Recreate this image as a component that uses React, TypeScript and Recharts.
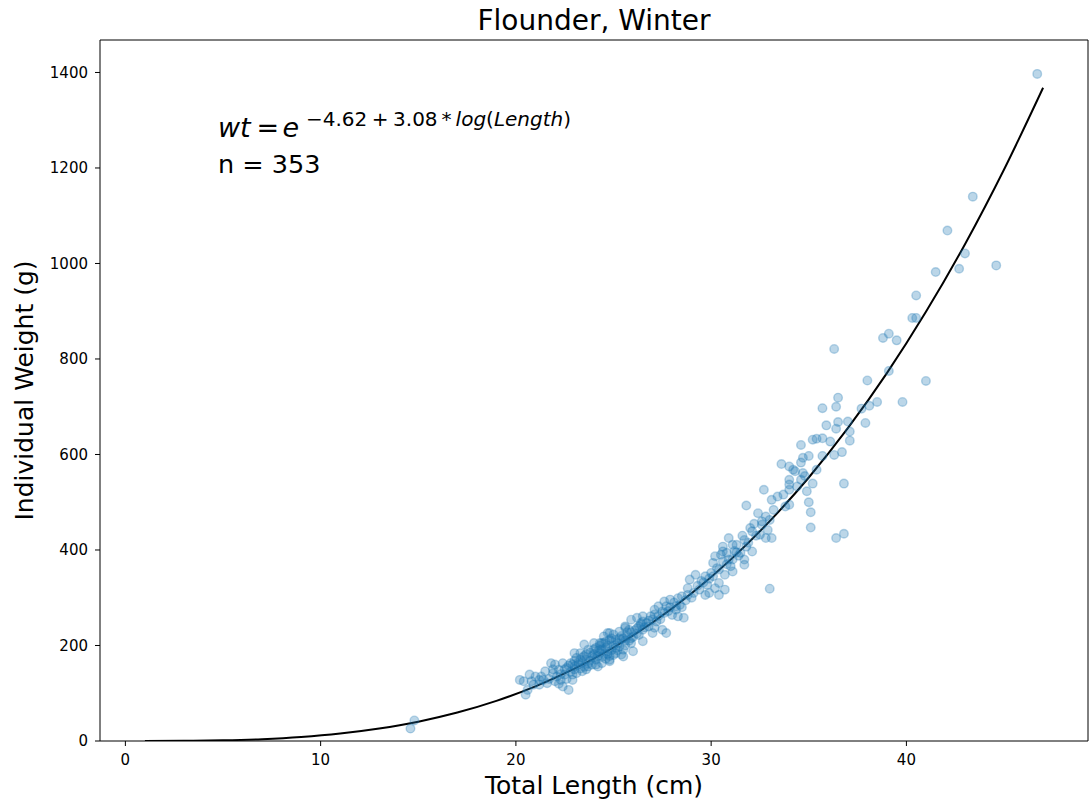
import {
  ComposedChart,
  Scatter,
  Line,
  XAxis,
  YAxis,
  ReferenceArea,
} from "recharts";

const FONT = "DejaVu Sans";
const BLUE = "#1f77b4";

// observed fish, total length (cm) and weight (g)
const fishLength = [
  46.7, 43.4, 42.1, 43.0, 44.6, 42.7, 41.5, 40.5, 40.3, 40.5, 41.0, 39.1, 39.5, 38.8, 39.1,
  36.3, 38.0, 39.8, 38.5, 38.1, 37.7, 36.5, 36.4, 35.7, 37.9, 37.0, 36.5, 35.9, 37.1, 36.4,
  37.1, 36.1, 35.7, 35.4, 35.2, 34.6, 35.0, 36.3, 36.7, 35.7, 34.7, 34.6, 34.0, 34.2, 35.4,
  34.8, 34.6, 34.4, 34.9, 35.2, 36.8, 35.0, 35.1, 35.1, 36.4, 36.8, 34.0, 34.0,
  33.6, 34.3, 34.7, 34.0, 34.0, 32.7, 31.8, 33.1, 33.4, 33.7, 33.8, 33.2, 32.4, 32.8, 33.0,
  32.6, 32.0, 32.1, 32.9, 33.1, 32.8, 32.5, 31.7, 31.3, 30.9, 31.1, 30.6, 31.8, 32.1, 31.5,
  30.8, 30.2, 31.7, 31.1, 30.6, 30.1, 31.0, 31.7, 30.4, 31.1, 30.7, 29.7, 30.4, 29.8, 30.2,
  30.7, 29.9, 33.0, 30.4,
  30.6, 28.9, 29.2, 29.7, 29.4, 29.1, 28.8, 28.5, 28.3, 27.9, 27.6, 28.4, 28.2, 27.7, 27.3,
  27.1, 27.5, 28.0, 28.6, 28.3, 26.9, 26.5, 26.2, 25.9, 26.4, 26.7, 27.2, 27.1, 27.5, 27.7,
  27.0, 26.5, 26.5, 25.8, 25.6, 25.3, 25.0, 24.7, 24.8, 25.4, 25.9, 26.0, 24.5, 24.3, 24.7,
  25.1, 25.5, 25.4, 24.8, 24.4,
  25.6, 24.8, 24.5, 24.9, 24.3, 24.0, 23.5, 23.7, 24.2, 25.1, 25.5, 23.3, 23.0, 23.1, 23.6,
  24.0, 24.8, 23.7, 24.2, 22.8, 22.4, 22.0, 21.8, 22.2, 22.6, 23.0, 23.4, 22.9, 22.5, 21.9,
  21.5, 21.3, 21.0, 20.7, 20.4, 20.8, 21.2, 21.6, 22.0, 22.4, 22.7, 20.6, 20.5, 20.2,
  14.6, 14.8,
  22.5, 22.8, 23.0, 23.2, 23.4, 23.5, 23.7, 23.8, 23.9, 24.0, 24.1, 24.2, 24.3, 24.4, 24.5,
  24.6, 24.7, 24.9, 25.0, 25.2, 25.3, 25.5, 25.7, 25.8, 26.0, 26.2, 26.3, 26.6, 26.8, 27.0,
  23.1, 23.3, 22.6, 22.9, 23.6, 24.1, 24.6, 25.1, 25.4, 25.9, 23.9, 24.4, 24.8, 25.6, 26.1,
  22.1, 21.7, 22.3, 23.4, 24.9, 27.3, 27.8, 28.1, 28.7, 29.0, 29.3, 29.6, 29.9, 30.0, 30.3,
  28.5, 27.6, 26.4, 23.2, 24.3, 31.4, 31.9, 32.3, 32.6, 31.2, 30.9,
  21.4, 21.9, 22.3, 22.7, 23.0, 23.3, 23.6, 23.8, 24.1, 24.4, 24.7, 25.0, 25.3, 25.6, 25.9,
  26.2, 26.5, 26.8, 27.1, 27.4, 27.9, 28.2, 28.8, 29.5, 30.1, 30.5, 30.8, 31.3, 31.6, 32.2,
  22.2, 22.9, 23.5, 24.0, 24.6, 25.2, 25.7, 26.3, 21.2, 20.9,
];

const fishWeight = [
  1397, 1140, 1069, 1021, 996, 989, 982, 933, 886, 886, 754, 853, 839, 844, 775,
  821, 755, 710, 710, 702, 696, 719, 700, 697, 666, 669, 668, 661, 648, 654,
  629, 627, 634, 633, 631, 620, 597, 599, 605, 597, 593, 583, 575, 568, 568,
  555, 547, 533, 523, 539, 539, 500, 479, 447, 425, 434, 495, 526,
  580, 565, 561, 547, 537, 526, 493, 505, 512, 516, 491, 484, 477, 470, 463,
  453, 446, 439, 442, 425, 425, 432, 421, 411, 425, 411, 407, 407, 397, 394,
  394, 387, 380, 380, 376, 373, 366, 369, 359, 355, 348, 345, 331, 327, 320,
  317, 310, 319, 306,
  397, 338, 348, 306, 317, 310, 306, 303, 299, 296, 292, 285, 282, 282, 282,
  275, 271, 264, 258, 261, 261, 261, 258, 254, 247, 247, 250, 237, 233, 226,
  226, 233, 209, 233, 240, 229, 223, 226, 212, 212, 205, 188, 205, 191, 188,
  195, 191, 181, 170, 163,
  237, 226, 219, 209, 205, 205, 202, 191, 188, 184, 177, 184, 184, 174, 170,
  174, 167, 156, 156, 163, 163, 160, 163, 149, 153, 156, 146, 139, 139, 142,
  146, 135, 135, 139, 125, 125, 118, 121, 125, 114, 107, 107, 97, 128,
  26, 43,
  150, 145, 150, 160, 165, 155, 162, 168, 178, 182, 170, 178, 185, 176, 182,
  195, 200, 190, 200, 205, 198, 215, 220, 210, 218, 225, 240, 238, 252, 255,
  142, 152, 130, 128, 182, 195, 172, 212, 220, 228, 160, 192, 178, 200, 232,
  135, 130, 128, 175, 215, 262, 272, 290, 295, 300, 325, 332, 340, 352, 362,
  280, 268, 243, 165, 200, 388, 415, 430, 460, 398, 380,
  128, 150, 140, 158, 168, 170, 150, 185, 160, 205, 182, 180, 215, 210, 215,
  236, 250, 240, 265, 255, 280, 275, 320, 335, 345, 390, 370, 395, 430, 455,
  120, 160, 178, 192, 208, 190, 228, 222, 128, 118,
];

// fitted curve
const curveLength = [1, 3, 5, 7, 9, 11, 13, 15, 17, 19, 21, 23, 25, 27, 29, 31, 33, 35, 37, 39, 41, 43, 45, 47];
const curveWeight = [
  0.01, 0.29, 1.4, 3.9, 8.4, 15.6, 26.1, 40.5, 59.6, 84.1, 114.4, 151.4, 195.8, 248.1,
  309.3, 379.8, 460.4, 551.8, 655, 770.3, 898.7, 1040.4, 1196.9, 1368,
];

const xTicks = [0, 10, 20, 30, 40];
const yTicks = [0, 200, 400, 600, 800, 1000, 1200, 1400];
const X_DOMAIN: [number, number] = [-1.3, 49.3];
const Y_DOMAIN: [number, number] = [0, 1468];

const fishData = fishLength.map((x, i) => ({ x, w: fishWeight[i] }));
const curveData = curveLength.map((x, i) => ({ x, w: curveWeight[i] }));

const tickStyle = { fill: "#000", fontSize: 15, fontFamily: FONT };

function Dot(props: { cx?: number; cy?: number }) {
  if (props.cx == null || props.cy == null) return null;
  return (
    <circle
      cx={props.cx}
      cy={props.cy}
      r={4.3}
      fill={BLUE}
      fillOpacity={0.3}
      stroke={BLUE}
      strokeOpacity={0.3}
      strokeWidth={1.4}
    />
  );
}

export default function App() {
  return (
    <div style={{ position: "absolute", left: 0, top: 0, width: 1089, height: 807, background: "#fff" }}>
      <ComposedChart
        width={1089}
        height={807}
        margin={{ top: 40, right: 1, bottom: 0, left: 0 }}
      >
        <XAxis
          type="number"
          dataKey="x"
          domain={X_DOMAIN}
          ticks={xTicks}
          allowDataOverflow
          axisLine={false}
          tickLine={{ stroke: "#000" }}
          tickSize={5}
          tickMargin={8}
          height={66}
          tick={tickStyle}
        />
        <YAxis
          type="number"
          dataKey="w"
          domain={Y_DOMAIN}
          ticks={yTicks}
          allowDataOverflow
          axisLine={false}
          tickLine={{ stroke: "#000" }}
          tickSize={5}
          tickMargin={7}
          width={100}
          tick={tickStyle}
        />
        <ReferenceArea
          x1={X_DOMAIN[0]}
          x2={X_DOMAIN[1]}
          y1={Y_DOMAIN[0]}
          y2={Y_DOMAIN[1]}
          fill="none"
          fillOpacity={0}
          stroke="#000"
          strokeWidth={1}
          ifOverflow="visible"
        />
        <Scatter data={fishData} dataKey="w" shape={Dot} isAnimationActive={false} />
        <Line
          data={curveData}
          dataKey="w"
          type="monotone"
          stroke="#000"
          strokeWidth={2}
          dot={false}
          isAnimationActive={false}
        />
      </ComposedChart>
      <svg
        width={1089}
        height={807}
        style={{ position: "absolute", left: 0, top: 0, pointerEvents: "none" }}
        fontFamily={FONT}
        fill="#000"
      >
        <text x={594} y={30} fontSize={28} textAnchor="middle">
          Flounder, Winter
        </text>
        <text x={594} y={794} fontSize={25} textAnchor="middle">
          Total Length (cm)
        </text>
        <text x={33} y={390.5} fontSize={25} textAnchor="middle" transform="rotate(-90 33 390.5)">
          Individual Weight (g)
        </text>

        <text x={218} y={137} fontSize={27} fontStyle="italic">wt</text>
        <text x={256.5} y={137} fontSize={27}>=</text>
        <text x={282.5} y={137} fontSize={27} fontStyle="italic">e</text>
        <text x={306} y={126} fontSize={20}>
          <tspan>−4.62</tspan>
          <tspan dx={4.5}>+</tspan>
          <tspan dx={4.5}>3.08</tspan>
          <tspan dx={4}>*</tspan>
          <tspan dx={4} fontStyle="italic">log</tspan>
          <tspan>(</tspan>
          <tspan fontStyle="italic">Length</tspan>
          <tspan>)</tspan>
        </text>

        <text x={218} y={173} fontSize={25.5}>n = 353</text>
      </svg>
    </div>
  );
}
